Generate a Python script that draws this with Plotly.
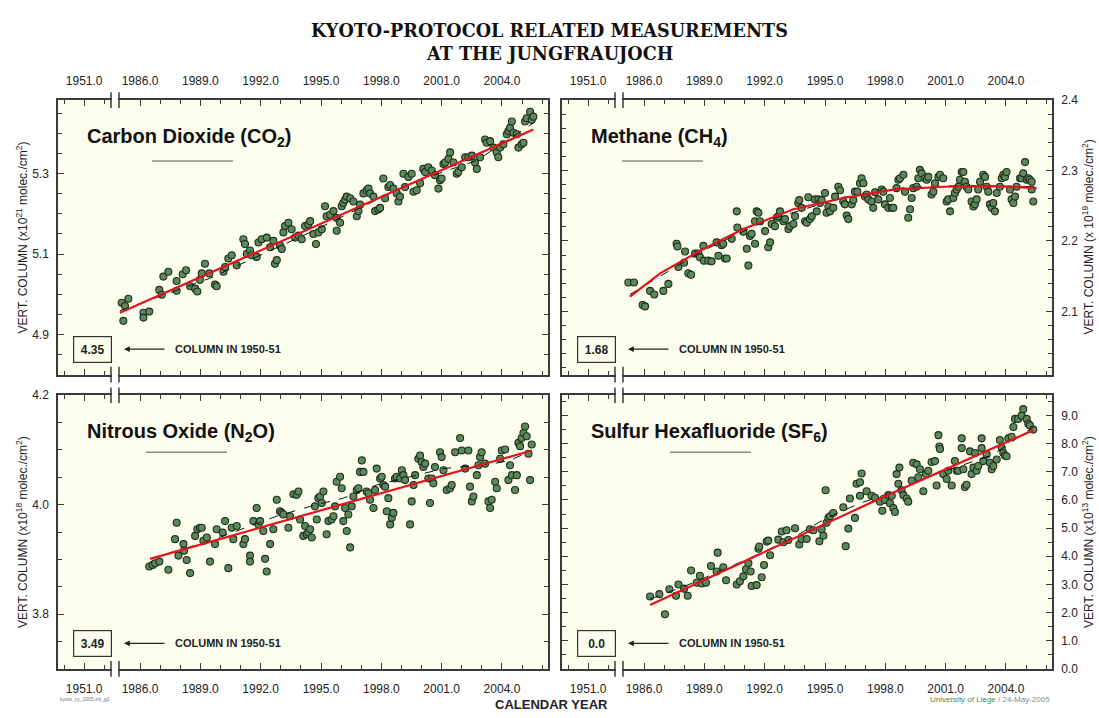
import numpy as np
import plotly.graph_objects as go

W, H = 1099, 718

# ---------------- data (year, value) ----------------
CO2_POINTS = [
    (1985.09, 4.979), (1985.17, 4.934), (1985.25, 4.971), (1985.42, 4.989), (1986.17, 4.954), (1986.17, 4.942),
    (1986.46, 4.957), (1986.96, 5.011), (1987.08, 4.999), (1987.16, 5.044), (1987.41, 5.056), (1987.82, 5.033),
    (1987.82, 5.009), (1988.12, 5.050), (1988.29, 5.060), (1988.49, 5.020), (1988.74, 5.014), (1988.85, 5.007),
    (1988.98, 5.036), (1989.07, 5.052), (1989.23, 5.076), (1989.45, 5.052), (1989.73, 5.024), (1989.81, 5.020),
    (1990.15, 5.056), (1990.23, 5.068), (1990.39, 5.089), (1990.56, 5.097), (1990.81, 5.072), (1991.14, 5.137),
    (1991.22, 5.125), (1991.31, 5.101), (1991.47, 5.109), (1991.55, 5.097), (1991.80, 5.093), (1991.89, 5.129),
    (1992.05, 5.137), (1992.30, 5.141), (1992.47, 5.117), (1992.63, 5.133), (1992.71, 5.076), (1992.80, 5.085),
    (1992.96, 5.121), (1993.05, 5.113), (1993.13, 5.154), (1993.21, 5.170), (1993.38, 5.178), (1993.54, 5.162),
    (1993.71, 5.141), (1993.88, 5.146), (1994.04, 5.137), (1994.21, 5.170), (1994.37, 5.174), (1994.46, 5.182),
    (1994.62, 5.150), (1994.75, 5.125), (1994.87, 5.154), (1995.04, 5.162), (1995.20, 5.219), (1995.28, 5.194),
    (1995.45, 5.198), (1995.62, 5.207), (1995.78, 5.190), (1995.78, 5.158), (1995.95, 5.178), (1996.03, 5.219),
    (1996.11, 5.227), (1996.20, 5.235), (1996.28, 5.243), (1996.45, 5.239), (1996.61, 5.231), (1996.78, 5.194),
    (1996.86, 5.207), (1996.94, 5.223), (1997.11, 5.251), (1997.27, 5.259), (1997.36, 5.263), (1997.44, 5.251),
    (1997.61, 5.243), (1997.69, 5.207), (1997.85, 5.211), (1997.94, 5.215), (1998.10, 5.288), (1998.19, 5.239),
    (1998.35, 5.267), (1998.44, 5.272), (1998.60, 5.263), (1998.77, 5.251), (1998.85, 5.231), (1998.93, 5.243),
    (1999.10, 5.300), (1999.18, 5.267), (1999.35, 5.292), (1999.51, 5.300), (1999.60, 5.255), (1999.76, 5.259),
    (1999.93, 5.276), (2000.09, 5.312), (2000.18, 5.304), (2000.34, 5.316), (2000.51, 5.308), (2000.67, 5.296),
    (2000.84, 5.263), (2000.92, 5.284), (2001.00, 5.288), (2001.09, 5.324), (2001.17, 5.328), (2001.34, 5.337),
    (2001.42, 5.353), (2001.59, 5.328), (2001.75, 5.300), (2001.83, 5.304), (2002.00, 5.316), (2002.17, 5.341),
    (2002.33, 5.341), (2002.50, 5.345), (2002.66, 5.328), (2002.75, 5.312), (2002.91, 5.341), (2003.16, 5.385),
    (2003.24, 5.377), (2003.41, 5.381), (2003.58, 5.365), (2003.74, 5.353), (2003.82, 5.341), (2003.91, 5.365),
    (2004.07, 5.373), (2004.24, 5.398), (2004.32, 5.406), (2004.40, 5.414), (2004.49, 5.430), (2004.57, 5.402),
    (2004.74, 5.398), (2004.82, 5.365), (2004.98, 5.373), (2005.07, 5.377), (2005.15, 5.430), (2005.23, 5.438),
    (2005.40, 5.454), (2005.48, 5.434), (2005.56, 5.442),
]
CO2_FIT = [(1985.00, 4.954), (2005.56, 5.410)]
CO2_SMOOTH = [(1985.00, 4.959), (1989.48, 5.040), (1994.46, 5.154), (1999.43, 5.276), (2002.75, 5.333), (2005.56, 5.426)]

CH4_POINTS = [
    (1985.22, 2.141), (1985.50, 2.141), (1985.93, 2.109), (1986.05, 2.107), (1986.30, 2.129), (1986.51, 2.124),
    (1986.96, 2.129), (1987.21, 2.139), (1987.62, 2.196), (1987.66, 2.192), (1987.71, 2.163), (1987.99, 2.169),
    (1988.04, 2.185), (1988.20, 2.154), (1988.34, 2.152), (1988.54, 2.182), (1988.70, 2.182), (1988.78, 2.177),
    (1988.95, 2.193), (1988.98, 2.172), (1989.20, 2.172), (1989.36, 2.171), (1989.61, 2.198), (1989.70, 2.179),
    (1989.86, 2.194), (1989.94, 2.196), (1990.03, 2.175), (1990.11, 2.175), (1990.36, 2.203), (1990.61, 2.242),
    (1990.64, 2.219), (1990.94, 2.213), (1991.11, 2.189), (1991.19, 2.165), (1991.27, 2.207), (1991.35, 2.210),
    (1991.52, 2.196), (1991.52, 2.228), (1991.60, 2.242), (1991.69, 2.240), (1991.77, 2.228), (1992.02, 2.214),
    (1992.18, 2.191), (1992.27, 2.198), (1992.35, 2.224), (1992.51, 2.221), (1992.60, 2.233), (1992.68, 2.235),
    (1992.76, 2.242), (1992.93, 2.228), (1993.01, 2.231), (1993.18, 2.217), (1993.26, 2.221), (1993.43, 2.224),
    (1993.51, 2.235), (1993.67, 2.254), (1993.72, 2.258), (1993.84, 2.247), (1994.01, 2.228), (1994.09, 2.226),
    (1994.17, 2.262), (1994.25, 2.231), (1994.34, 2.235), (1994.50, 2.259), (1994.59, 2.242), (1994.67, 2.259),
    (1994.75, 2.254), (1994.83, 2.258), (1995.00, 2.268), (1995.08, 2.240), (1995.17, 2.249), (1995.25, 2.242),
    (1995.41, 2.247), (1995.50, 2.263), (1995.66, 2.277), (1995.75, 2.272), (1995.91, 2.256), (1995.99, 2.252),
    (1996.08, 2.236), (1996.16, 2.231), (1996.33, 2.252), (1996.41, 2.258), (1996.49, 2.270), (1996.61, 2.270),
    (1996.74, 2.282), (1996.82, 2.289), (1996.91, 2.282), (1996.99, 2.263), (1997.07, 2.266), (1997.16, 2.259),
    (1997.32, 2.256), (1997.40, 2.247), (1997.49, 2.269), (1997.65, 2.259), (1997.82, 2.273), (1997.90, 2.270),
    (1997.98, 2.252), (1998.15, 2.247), (1998.23, 2.261), (1998.32, 2.247), (1998.40, 2.247), (1998.56, 2.275),
    (1998.65, 2.287), (1998.73, 2.289), (1998.90, 2.294), (1998.98, 2.270), (1999.14, 2.233), (1999.23, 2.245),
    (1999.31, 2.261), (1999.39, 2.275), (1999.56, 2.277), (1999.64, 2.289), (1999.72, 2.301), (1999.81, 2.296),
    (1999.97, 2.289), (2000.06, 2.287), (2000.14, 2.291), (2000.30, 2.266), (2000.39, 2.270), (2000.47, 2.282),
    (2000.64, 2.291), (2000.72, 2.294), (2000.88, 2.289), (2001.05, 2.256), (2001.13, 2.259), (2001.22, 2.242),
    (2001.38, 2.261), (2001.46, 2.268), (2001.55, 2.273), (2001.63, 2.277), (2001.71, 2.287), (2001.80, 2.298),
    (2001.88, 2.298), (2001.96, 2.284), (2002.04, 2.277), (2002.13, 2.273), (2002.29, 2.256), (2002.38, 2.249),
    (2002.46, 2.252), (2002.54, 2.259), (2002.62, 2.273), (2002.71, 2.284), (2002.87, 2.294), (2002.96, 2.291),
    (2003.04, 2.277), (2003.12, 2.270), (2003.20, 2.252), (2003.29, 2.247), (2003.37, 2.254), (2003.45, 2.242),
    (2003.54, 2.268), (2003.70, 2.277), (2003.79, 2.289), (2003.87, 2.294), (2003.95, 2.291), (2004.03, 2.298),
    (2004.20, 2.273), (2004.28, 2.259), (2004.37, 2.254), (2004.45, 2.263), (2004.53, 2.277), (2004.70, 2.289),
    (2004.78, 2.289), (2004.86, 2.296), (2004.95, 2.312), (2005.03, 2.287), (2005.11, 2.289), (2005.19, 2.287),
    (2005.28, 2.284), (2005.28, 2.273), (2005.36, 2.256),
]
CH4_FIT = [(1985.30, 2.121), (1986.80, 2.154), (1988.78, 2.186), (1990.94, 2.217), (1993.43, 2.245),
           (1995.91, 2.261), (1998.40, 2.273), (2000.88, 2.277), (2003.37, 2.278), (2005.52, 2.275)]
CH4_SMOOTH = [(1985.30, 2.124), (1988.78, 2.184), (1992.00, 2.228), (1995.91, 2.262), (1999.00, 2.276),
              (2002.00, 2.279), (2005.52, 2.277)]

N2O_POINTS = [
    (1986.46, 3.887), (1986.63, 3.890), (1986.75, 3.893), (1986.96, 3.896), (1987.41, 3.881), (1987.74, 3.937),
    (1987.82, 3.967), (1987.91, 3.907), (1988.16, 3.928), (1988.19, 3.916), (1988.32, 3.899), (1988.49, 3.875),
    (1988.74, 3.943), (1988.85, 3.955), (1988.98, 3.958), (1989.07, 3.958), (1989.15, 3.934), (1989.32, 3.940),
    (1989.48, 3.896), (1989.73, 3.928), (1989.81, 3.955), (1990.11, 3.949), (1990.23, 3.970), (1990.39, 3.884),
    (1990.56, 3.958), (1990.64, 3.937), (1990.81, 3.961), (1991.14, 3.928), (1991.22, 3.937), (1991.47, 3.907),
    (1991.47, 3.896), (1991.64, 3.970), (1991.80, 3.994), (1991.89, 3.964), (1991.97, 3.970), (1992.13, 3.952),
    (1992.22, 3.901), (1992.30, 3.878), (1992.47, 3.928), (1992.63, 3.955), (1992.80, 4.009), (1992.96, 3.988),
    (1993.05, 3.985), (1993.13, 3.982), (1993.38, 3.958), (1993.46, 3.979), (1993.63, 4.019), (1993.79, 4.018),
    (1993.88, 4.024), (1993.96, 3.973), (1994.12, 3.943), (1994.21, 3.961), (1994.29, 3.946), (1994.37, 3.949),
    (1994.46, 3.955), (1994.54, 3.940), (1994.70, 3.997), (1994.79, 3.973), (1994.87, 4.012), (1994.95, 4.015),
    (1995.04, 4.003), (1995.12, 4.024), (1995.28, 3.946), (1995.37, 3.970), (1995.53, 3.973), (1995.62, 3.979),
    (1995.70, 3.997), (1995.78, 4.042), (1995.95, 4.051), (1996.03, 4.030), (1996.11, 3.970), (1996.20, 3.994),
    (1996.28, 3.952), (1996.36, 3.982), (1996.45, 3.922), (1996.53, 3.997), (1996.61, 4.015), (1996.78, 4.027),
    (1996.86, 4.030), (1996.94, 4.060), (1997.03, 4.081), (1997.11, 4.060), (1997.27, 4.024), (1997.36, 4.021),
    (1997.44, 4.009), (1997.61, 3.994), (1997.69, 4.027), (1997.77, 4.066), (1997.94, 4.048), (1998.02, 4.051),
    (1998.10, 4.036), (1998.19, 4.033), (1998.27, 3.988), (1998.35, 4.012), (1998.44, 3.964), (1998.52, 3.976),
    (1998.60, 3.985), (1998.68, 4.048), (1998.77, 4.051), (1998.93, 4.048), (1999.02, 4.063), (1999.10, 4.054),
    (1999.18, 4.045), (1999.43, 3.964), (1999.51, 4.006), (1999.60, 4.036), (1999.68, 4.054), (1999.84, 4.084),
    (1999.93, 4.090), (2000.01, 4.078), (2000.09, 4.069), (2000.18, 4.075), (2000.34, 4.048), (2000.42, 4.003),
    (2000.51, 4.048), (2000.59, 4.039), (2000.67, 4.069), (2000.92, 4.096), (2001.00, 4.087), (2001.09, 4.063),
    (2001.25, 4.027), (2001.42, 4.030), (2001.50, 4.036), (2001.67, 4.096), (2001.92, 4.122), (2002.00, 4.099),
    (2002.17, 4.066), (2002.33, 4.099), (2002.41, 4.033), (2002.50, 4.006), (2002.58, 4.015), (2002.75, 4.054),
    (2002.83, 4.072), (2002.91, 4.087), (2002.99, 4.096), (2003.16, 4.075), (2003.33, 4.006), (2003.41, 3.994),
    (2003.49, 4.009), (2003.66, 4.042), (2003.74, 4.030), (2003.91, 4.084), (2003.99, 4.099), (2004.16, 4.101),
    (2004.32, 4.045), (2004.40, 4.072), (2004.49, 4.054), (2004.65, 4.027), (2004.74, 4.054), (2004.82, 4.113),
    (2004.90, 4.107), (2004.98, 4.122), (2005.07, 4.131), (2005.15, 4.143), (2005.23, 4.125), (2005.32, 4.093),
    (2005.40, 4.045), (2005.48, 4.110),
]
N2O_FIT = [(1986.50, 3.901), (2005.48, 4.099)]
N2O_SMOOTH = [(1986.50, 3.901), (1989.48, 3.934), (1992.80, 3.979), (1994.46, 3.997), (1996.11, 4.012),
              (1997.77, 4.036), (1999.43, 4.051), (2001.09, 4.066), (2002.75, 4.072), (2003.58, 4.075),
              (2004.40, 4.081), (2005.48, 4.099)]

SF6_POINTS = [
    (1986.30, 2.572), (1986.76, 2.653), (1987.04, 1.938), (1987.26, 2.826), (1987.59, 2.595), (1987.71, 2.999),
    (1987.99, 2.849), (1988.17, 2.595), (1988.34, 3.495), (1988.62, 3.057), (1988.78, 3.310), (1988.87, 3.033),
    (1989.08, 3.057), (1989.33, 3.656), (1989.61, 3.460), (1989.66, 4.129), (1989.94, 3.610), (1990.08, 3.149),
    (1990.61, 2.999), (1990.77, 3.114), (1990.94, 3.287), (1991.07, 3.541), (1991.19, 3.749), (1991.30, 3.460),
    (1991.35, 2.941), (1991.60, 2.976), (1991.69, 4.268), (1991.73, 4.348), (1991.85, 3.253), (1991.97, 3.691),
    (1992.10, 4.521), (1992.18, 4.556), (1992.27, 4.037), (1992.68, 4.591), (1992.85, 4.879), (1992.93, 4.498),
    (1993.09, 4.925), (1993.18, 4.579), (1993.51, 4.994), (1993.72, 4.418), (1993.84, 4.614), (1994.09, 4.614),
    (1994.25, 4.960), (1994.42, 4.925), (1994.72, 4.533), (1994.83, 4.960), (1994.92, 4.729), (1995.03, 6.344),
    (1995.08, 5.190), (1995.17, 5.363), (1995.25, 5.421), (1995.41, 5.536), (1995.91, 5.744), (1996.03, 4.360),
    (1996.16, 4.983), (1996.24, 6.055), (1996.49, 5.363), (1996.57, 6.574), (1996.74, 6.632), (1996.82, 6.943),
    (1996.74, 6.148), (1997.07, 6.309), (1997.32, 6.148), (1997.49, 6.078), (1997.74, 5.940), (1997.85, 5.617),
    (1997.98, 5.998), (1998.15, 6.171), (1998.23, 5.882), (1998.32, 6.148), (1998.40, 5.709), (1998.48, 5.571),
    (1998.56, 6.920), (1998.65, 6.574), (1998.70, 7.151), (1998.81, 6.344), (1998.90, 6.171), (1999.06, 6.055),
    (1999.14, 5.940), (1999.31, 6.690), (1999.39, 7.324), (1999.56, 7.266), (1999.64, 6.805), (1999.72, 7.093),
    (1999.89, 6.309), (2000.02, 6.920), (2000.14, 7.036), (2000.30, 7.347), (2000.47, 7.382), (2000.55, 6.517),
    (2000.64, 8.304), (2000.69, 7.901), (2000.72, 7.809), (2000.88, 6.920), (2001.05, 6.747), (2001.13, 7.036),
    (2001.30, 6.517), (2001.46, 7.382), (2001.55, 7.036), (2001.63, 7.036), (2001.80, 8.189), (2001.80, 7.843),
    (2001.88, 7.093), (2001.96, 6.459), (2002.04, 6.540), (2002.21, 7.728), (2002.29, 6.920), (2002.38, 7.151),
    (2002.46, 7.670), (2002.54, 7.036), (2002.62, 7.209), (2002.79, 8.189), (2002.79, 7.843), (2002.87, 7.382),
    (2003.04, 7.612), (2003.20, 7.324), (2003.29, 7.093), (2003.37, 7.209), (2003.54, 7.439), (2003.70, 8.131),
    (2003.79, 7.843), (2003.87, 7.670), (2003.95, 7.578), (2004.03, 7.555), (2004.12, 8.189), (2004.28, 8.247),
    (2004.37, 8.593), (2004.45, 8.881), (2004.61, 8.881), (2004.78, 8.997), (2004.86, 9.227), (2005.03, 8.881),
    (2005.11, 8.708), (2005.19, 8.650), (2005.36, 8.500),
]
SF6_FIT = [(1986.30, 2.272), (1995.08, 5.190), (1997.57, 5.998), (2005.36, 8.477)]
SF6_SMOOTH = [(1986.30, 2.480), (1988.45, 3.057), (1990.11, 3.576), (1991.77, 4.095), (1993.43, 4.671),
              (1995.08, 5.363), (1996.74, 5.882), (1998.40, 6.286), (2000.06, 6.805), (2001.71, 7.209),
              (2003.37, 7.612), (2005.36, 8.593)]

# 1950-51 reference columns (shown in boxes)
REF_1950 = ["4.35", "1.68", "3.49", "0.0"]

TITLES = ["Carbon Dioxide (CO<sub>2</sub>)", "Methane (CH<sub>4</sub>)",
          "Nitrous Oxide (N<sub>2</sub>O)", "Sulfur Hexafluoride (SF<sub>6</sub>)"]
Y_TITLES = ["VERT. COLUMN (x10<sup>21</sup> molec./cm<sup>2</sup>)",
            "VERT. COLUMN (x 10<sup>19</sup> molec./cm<sup>2</sup>)",
            "VERT. COLUMN (x10<sup>18</sup> molec./cm<sup>2</sup>)",
            "VERT. COLUMN (x10<sup>13</sup> molec./cm<sup>2</sup>)"]

X_TICK_YEARS = [1951, 1986, 1989, 1992, 1995, 1998, 2001, 2004]
X_TICK_TEXT = ["1951.0", "1986.0", "1989.0", "1992.0", "1995.0", "1998.0", "2001.0", "2004.0"]

Y_TICKS = [[4.9, 5.1, 5.3], [2.1, 2.2, 2.3, 2.4], [3.8, 4.0, 4.2], [0, 1, 2, 3, 4, 5, 6, 7, 8, 9]]
Y_MINOR_STEP = [0.05, 0.02, 0.05, 0.5]
Y_RANGES = [[4.80, 5.483], [2.01, 2.40], [3.70, 4.20], [0.0, 9.72]]

# ---------------- layout geometry ----------------
EARLY_SHIFT = 32.22          # axis break: 1951 is drawn at 1983.22
X_RANGE = [1981.92, 2006.29]

def xmap(year):
    return year + EARLY_SHIFT if year < 1960 else year

PX_L = [58, 548]
PX_R = [562, 1052]
PY_T = [95, 375]
PY_B = [396, 675]

def px(x):
    return x / W

def py(y):
    return 1 - y / H

AX = "#3a3a3a"
FONT = "Liberation Sans, Arial, sans-serif"
BG = "#FDFDEE"
PANELS = [
    dict(points=CO2_POINTS, fit=CO2_FIT, smooth=CO2_SMOOTH, xs=PX_L, ys=PY_T, yside="left", xside="top"),
    dict(points=CH4_POINTS, fit=CH4_FIT, smooth=CH4_SMOOTH, xs=PX_R, ys=PY_T, yside="right", xside="top"),
    dict(points=N2O_POINTS, fit=N2O_FIT, smooth=N2O_SMOOTH, xs=PX_L, ys=PY_B, yside="left", xside="bottom"),
    dict(points=SF6_POINTS, fit=SF6_FIT, smooth=SF6_SMOOTH, xs=PX_R, ys=PY_B, yside="right", xside="bottom"),
]

fig = go.Figure()
layout = dict(width=W, height=H, margin=dict(l=0, r=0, t=0, b=0), showlegend=False,
              paper_bgcolor="white", plot_bgcolor=BG, font=dict(family=FONT, color="#222"))
annotations = []
shapes = []

x_major = [xmap(y) for y in X_TICK_YEARS]
x_minor = [xmap(1950), xmap(1952)] + [y for y in range(1987, 2007) if y not in X_TICK_YEARS]

for i, p in enumerate(PANELS):
    n = "" if i == 0 else str(i + 1)
    xa, ya = "x" + n, "y" + n
    xs_, ys_ = zip(*p["points"])
    fig.add_trace(go.Scatter(x=xs_, y=ys_, mode="markers", xaxis=xa, yaxis=ya,
                             marker=dict(size=7, color="#5B895B", line=dict(color="#1E2E1E", width=1.1))))
    sx, sy = zip(*p["smooth"])
    fig.add_trace(go.Scatter(x=sx, y=sy, mode="lines", xaxis=xa, yaxis=ya,
                             line=dict(color="#111", width=1, dash="dash")))
    fx, fy = zip(*p["fit"])
    fig.add_trace(go.Scatter(x=fx, y=fy, mode="lines", xaxis=xa, yaxis=ya,
                             line=dict(color="#E3141C", width=2.2)))

    xdom = [px(p["xs"][0]), px(p["xs"][1])]
    ydom = [py(p["ys"][1]), py(p["ys"][0])]
    layout["xaxis" + n] = dict(
        domain=xdom, range=X_RANGE, anchor=ya, side=p["xside"],
        showline=True, linecolor=AX, linewidth=1.5, mirror="allticks",
        ticks="inside", ticklen=6, tickwidth=1.2, tickcolor=AX,
        tickmode="array", tickvals=x_major, ticktext=X_TICK_TEXT,
        tickfont=dict(size=12, color="#222", family=FONT),
        ticklabelstandoff=9 if p["xside"] == "top" else 8,
        showgrid=False, zeroline=False, fixedrange=True,
        minor=dict(tickmode="array", tickvals=x_minor, ticks="inside", ticklen=4,
                   tickwidth=1.2, tickcolor=AX, showgrid=False),
    )
    yt = Y_TICKS[i]
    step = Y_MINOR_STEP[i]
    r0, r1 = Y_RANGES[i]
    ym = [round(v, 4) for v in np.arange(np.ceil(r0 / step) * step, r1 + 1e-9, step)]
    ym = [v for v in ym if all(abs(v - t) > 1e-6 for t in yt)]
    layout["yaxis" + n] = dict(
        domain=ydom, range=Y_RANGES[i], anchor=xa, side=p["yside"],
        showline=True, linecolor=AX, linewidth=1.5, mirror="allticks",
        ticks="inside", ticklen=6, tickwidth=1.2, tickcolor=AX,
        tickmode="array", tickvals=yt, ticktext=[f"{v:.1f}" for v in yt],
        tickfont=dict(size=12, color="#222", family=FONT), ticklabelstandoff=5,
        showgrid=False, zeroline=False, fixedrange=True,
        minor=dict(tickmode="array", tickvals=ym, ticks="inside", ticklen=4,
                   tickwidth=1.2, tickcolor=AX, showgrid=False),
    )

    x0 = p["xs"][0]
    y0, y1 = p["ys"]
    # panel title + grey key line
    annotations.append(dict(text="<b>" + TITLES[i] + "</b>", x=px(x0 + 27), y=py(y0 + 38),
                            xref="paper", yref="paper", xanchor="left", yanchor="middle",
                            showarrow=False, font=dict(size=20, color="#111", family=FONT)))
    kx = [94, 60, 88, 108][i]
    ky = [62, 62, 58, 58][i]
    shapes.append(dict(type="line", xref="paper", yref="paper", x0=px(x0 + kx), x1=px(x0 + kx + 81),
                       y0=py(y0 + ky), y1=py(y0 + ky), line=dict(color="#8a8a8a", width=1.5)))
    # 1950-51 box, arrow, label
    by = y1 - 26
    annotations.append(dict(text="<b>" + REF_1950[i] + "</b>", x=px(x0 + 34), y=py(by),
                            xref="paper", yref="paper", xanchor="center", yanchor="middle",
                            showarrow=False, width=29, height=17, borderpad=4, borderwidth=1.2,
                            bordercolor="#333", bgcolor=BG, font=dict(size=12, color="#222", family=FONT)))
    annotations.append(dict(text="", x=px(x0 + 66), y=py(by), xref="paper", yref="paper",
                            ax=42, ay=0, showarrow=True, arrowhead=2, arrowsize=0.9, arrowwidth=1.3,
                            arrowcolor="#222", standoff=0))
    annotations.append(dict(text="<b>COLUMN IN 1950-51</b>", x=px(x0 + 115), y=py(by),
                            xref="paper", yref="paper", xanchor="left", yanchor="middle",
                            showarrow=False, font=dict(size=11, color="#222", family=FONT)))
    # axis break marks on top and bottom frame lines
    for yy in (y0, y1):
        b1, b2 = x0 + 53, x0 + 61
        shapes.append(dict(type="rect", xref="paper", yref="paper", x0=px(b1 + 1), x1=px(b2 - 1),
                           y0=py(yy + 4), y1=py(yy - 4), fillcolor="white", line=dict(width=0), layer="above"))
        for bx in (b1, b2):
            shapes.append(dict(type="line", xref="paper", yref="paper", x0=px(bx), x1=px(bx),
                               y0=py(yy + 8), y1=py(yy - 8), line=dict(color=AX, width=1.5), layer="above"))
    # y-axis title
    tx = 22 if p["yside"] == "left" else 1088
    annotations.append(dict(text=Y_TITLES[i], x=px(tx), y=py((y0 + y1) / 2), xref="paper", yref="paper",
                            xanchor="center", yanchor="middle", textangle=-90, showarrow=False,
                            font=dict(size=12, color="#222", family=FONT)))

# main title and footers
annotations += [
    dict(text="<b>KYOTO-PROTOCOL RELATED MEASUREMENTS</b>", x=0.5, y=py(24), xref="paper", yref="paper",
         showarrow=False, xanchor="center", yanchor="middle",
         font=dict(size=17.6, color="#111", family="DejaVu Serif, serif")),
    dict(text="<b>AT THE JUNGFRAUJOCH</b>", x=0.5, y=py(47), xref="paper", yref="paper",
         showarrow=False, xanchor="center", yanchor="middle",
         font=dict(size=17.6, color="#111", family="DejaVu Serif, serif")),
    dict(text="<b>CALENDAR YEAR</b>", x=px(551), y=py(711), xref="paper", yref="paper",
         showarrow=False, xanchor="center", yanchor="middle", font=dict(size=13, color="#222", family=FONT)),
    dict(text="kyoto_cy_2005.xls_g1", x=px(58), y=py(706), xref="paper", yref="paper",
         showarrow=False, xanchor="left", yanchor="middle", font=dict(size=5, color="#777", family=FONT)),
    dict(text="<span style='color:#3f8f3f'>University of Liege</span> / 24-May-2005", x=px(1052), y=py(706),
         xref="paper", yref="paper", showarrow=False, xanchor="right", yanchor="middle",
         font=dict(size=8, color="#888", family=FONT)),
]

layout["annotations"] = annotations
layout["shapes"] = shapes
fig.update_layout(**layout)

fig.write_html("out.html", config={"displayModeBar": False},
               post_script="document.body.style.margin='0';")
